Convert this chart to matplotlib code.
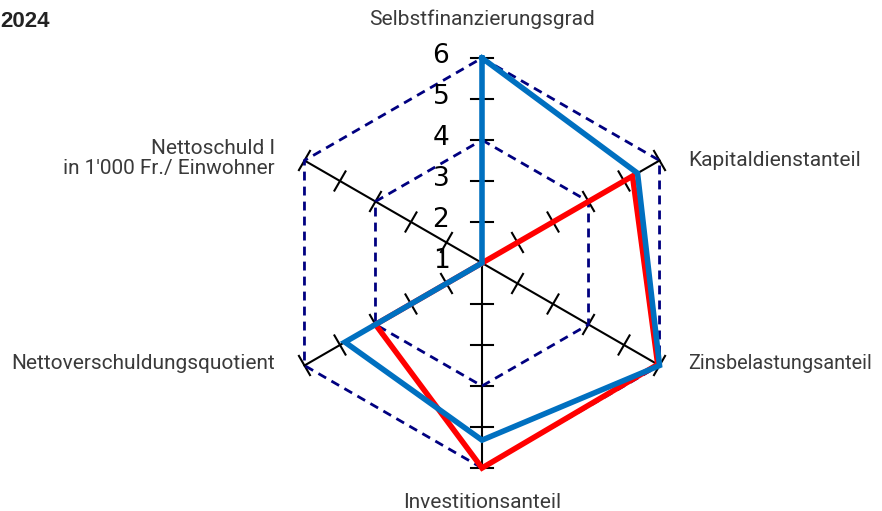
import numpy as np
import matplotlib
matplotlib.use("Agg")
from matplotlib import pyplot as plt

# Achsen (im Uhrzeigersinn ab oben)
categories = ["Selbstfinanzierungsgrad", "Kapitaldienstanteil", "Zinsbelastungsanteil",
              "Investitionsanteil", "Nettoverschuldungsquotient",
              "Nettoschuld I\nin 1'000 Fr./ Einwohner"]
# Bewertung 1..6
blue_vals = [6.0, 5.38, 6.0, 5.32, 4.86, 1.0]
red_vals = [1.0, 5.24, 5.95, 6.0, 4.0, 1.0]
tick_vals = [1, 2, 3, 4, 5, 6]
grid_levels = [4, 6]
title_text = "2024"

angles = np.deg2rad([90, 30, -30, -90, 210, 150])


def to_xy(vals):
    r = np.array(vals) - 1
    x = r * np.cos(angles)
    y = r * np.sin(angles)
    return np.append(x, x[0]), np.append(y, y[0])


fig = plt.figure(figsize=(8.82, 5.11), dpi=100)
ax = fig.add_axes([0, 0, 1, 1])
scale = 41.0  # Pixel pro Einheit
cx, cy = 482, 263
ax.set_xlim(-cx / scale, (882 - cx) / scale)
ax.set_ylim((cy - 511) / scale, cy / scale)
ax.axis("off")

# Achsenlinien
for a in angles:
    ax.plot([0, 5 * np.cos(a)], [0, 5 * np.sin(a)], color="black", lw=1.5, zorder=2)
    # Teilstriche
    for t in tick_vals[1:]:
        r = t - 1
        px, py = r * np.cos(a), r * np.sin(a)
        nx, ny = -np.sin(a) * 0.27, np.cos(a) * 0.27
        ax.plot([px - nx, px + nx], [py - ny, py + ny], color="black", lw=1.5, zorder=2)

# gestrichelte Sechsecke
for g in grid_levels:
    gx, gy = to_xy([g] * 6)
    ax.plot(gx, gy, color="#000080", lw=2.0, ls=(0, (3.2, 2.2)), zorder=3)

rx, ry = to_xy(red_vals)
ax.plot(rx, ry, color="#ff0000", lw=4, solid_joinstyle="miter", zorder=4)
bx, by = to_xy(blue_vals)
ax.plot(bx, by, color="#0070c0", lw=4, solid_joinstyle="miter", zorder=5)

# Skala
for t in tick_vals:
    ax.text(-1.0, t - 1 + 0.05, str(t), fontsize=19, ha="center", va="center",
            family="DejaVu Sans", color="black", zorder=6)

# Beschriftungen
lab_font = dict(fontsize=15, family="Roboto", color="#3a3a3a")
ax.text(0, 5.95, categories[0], ha="center", va="center", **lab_font)
ax.text(5.02, 2.5, categories[1], ha="left", va="center", **lab_font)
ax.text(5.02, -2.45, categories[2], ha="left", va="center",
        **{**lab_font, "fontsize": 14.3})
ax.text(0, -5.85, categories[3], ha="center", va="center", **lab_font)
ax.text(-5.05, -2.45, categories[4], ha="right", va="center", **lab_font)
ax.text(-5.05, 2.55, categories[5], ha="right", va="center", multialignment="right",
        linespacing=1.05, **lab_font)

fig.text(0.0, 0.958, title_text, fontsize=16, fontweight="bold", family="Liberation Sans",
         color="#222222", ha="left", va="center")

fig.savefig("out.png", dpi=100)
